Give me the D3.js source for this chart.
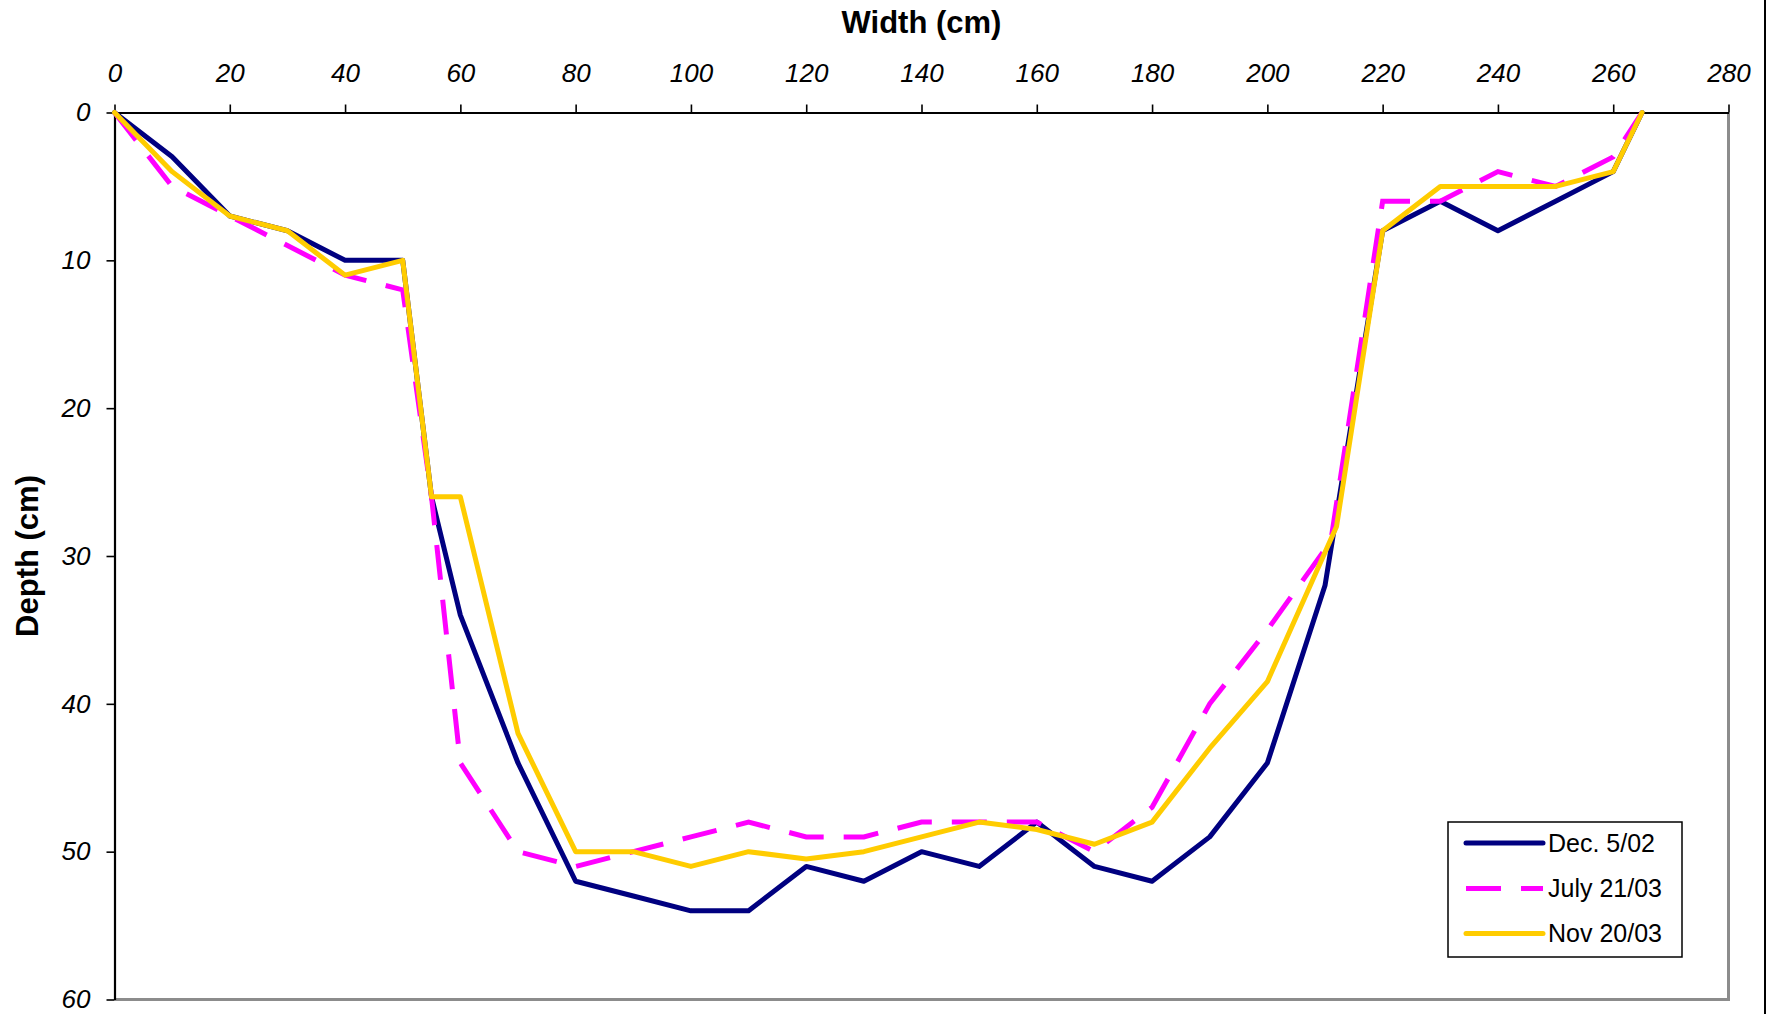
<!DOCTYPE html>
<html>
<head>
<meta charset="utf-8">
<script src="https://cdn.jsdelivr.net/npm/d3@7"></script>
<style>
  html, body { margin: 0; padding: 0; background: #fff; }
  svg { display: block; font-family: "Liberation Sans", Arial, sans-serif; }
</style>
</head>
<body>
<svg id="chart" width="1773" height="1014"></svg>
<script>
// ---- data ----
const xTicks = [0, 20, 40, 60, 80, 100, 120, 140, 160, 180, 200, 220, 240, 260, 280];
const yTicks = [0, 10, 20, 30, 40, 50, 60];

const seriesNames = ["Dec. 5/02", "July 21/03", "Nov 20/03"];

const decWidth  = [0,10,20,30,40,50,55,60,70,80,90,100,110,120,130,140,150,160,170,180,190,200,210,220,230,240,250,260,265];
const decDepth  = [0,3,7,8,10,10,26,34,44,52,53,54,54,51,52,50,51,48,51,52,49,44,32,8,6,8,6,4,0];

const julyWidth = [0,10,20,30,40,50,55,60,70,80,90,100,110,120,130,140,150,160,170,180,190,200,211,220,230,240,250,260,265];
const julyDepth = [0,5,7,9,11,12,26,44,50,51,50,49,48,49,49,48,48,48,50,47,40,35,29,6,6,4,5,3,0];

const novWidth  = [0,10,20,30,40,50,55,60,70,80,90,100,110,120,130,140,150,160,170,180,190,200,212,220,230,240,250,260,265];
const novDepth  = [0,4,7,8,11,10,26,26,42,50,50,51,50,50.5,50,49,48,48.5,49.5,48,43,38.5,28,8,5,5,5,4,0];

(function () {
// ---- layout ----
const svg = d3.select("#chart");
const pLeft = 114.5, pRight = 1728.5, pTop = 112.5, pBottom = 999.5;

const x = d3.scaleLinear().domain([0, 280]).range([pLeft, pRight]);
const y = d3.scaleLinear().domain([0, 60]).range([pTop, pBottom]);

// plot frame (right & bottom gray)
svg.append("line").attr("x1", pRight).attr("x2", pRight).attr("y1", pTop).attr("y2", pBottom + 1.5)
  .attr("stroke", "#8c8c8c").attr("stroke-width", 3);
svg.append("line").attr("x1", pLeft).attr("x2", pRight + 1.5).attr("y1", pBottom).attr("y2", pBottom)
  .attr("stroke", "#8c8c8c").attr("stroke-width", 3);

// outer chart edge on right
svg.append("line").attr("x1", 1765).attr("x2", 1765).attr("y1", 0).attr("y2", 1014)
  .attr("stroke", "#000").attr("stroke-width", 2);

// axes
const xAxis = d3.axisTop(x).tickValues(xTicks).tickSize(8).tickSizeOuter(0).tickPadding(23)
  .tickFormat(d3.format("d"));
const gx = svg.append("g").attr("transform", `translate(0,${pTop})`).call(xAxis);

const yAxis = d3.axisLeft(y).tickValues(yTicks).tickSize(8).tickSizeOuter(0).tickPadding(16)
  .tickFormat(d3.format("d"));
const gy = svg.append("g").attr("transform", `translate(${pLeft},0)`).call(yAxis);

[gx, gy].forEach(g => {
  g.select(".domain").attr("stroke", "#000").attr("stroke-width", 2.2);
  g.selectAll(".tick line").attr("stroke", "#000").attr("stroke-width", 1.6);
  g.selectAll(".tick text").attr("fill", "#000").style("font-size", "26px")
    .style("font-style", "italic").style("font-family", '"Liberation Sans", Arial, sans-serif');
});

// axis titles
svg.append("text").attr("x", (pLeft + pRight) / 2).attr("y", 33).attr("text-anchor", "middle")
  .style("font-size", "31px").style("font-weight", "bold").text("Width (cm)");
svg.append("text").attr("transform", `translate(38,${(pTop + pBottom) / 2}) rotate(-90)`)
  .attr("text-anchor", "middle")
  .style("font-size", "31px").style("font-weight", "bold").text("Depth (cm)");

// series
const series = [
  { name: seriesNames[0], xs: decWidth,  ds: decDepth,  color: "#000080", dash: null },
  { name: seriesNames[1], xs: julyWidth, ds: julyDepth, color: "#FF00FF", dash: "35,20" },
  { name: seriesNames[2], xs: novWidth,  ds: novDepth,  color: "#FFCC00", dash: null }
];

const line = d3.line().x(d => x(d[0])).y(d => y(d[1]));

series.forEach(s => {
  const pts = s.xs.map((v, i) => [v, s.ds[i]]);
  svg.append("path").datum(pts).attr("d", line)
    .attr("fill", "none").attr("stroke", s.color).attr("stroke-width", 5)
    .attr("stroke-linejoin", s.dash ? "miter" : "round")
    .attr("stroke-linecap", s.dash ? "butt" : "round")
    .attr("stroke-dasharray", s.dash);
});

// legend
const lg = svg.append("g");
lg.append("rect").attr("x", 1448).attr("y", 822).attr("width", 234).attr("height", 135)
  .attr("fill", "#fff").attr("stroke", "#000").attr("stroke-width", 1.5);
const rowY = [843, 888.5, 933.5];
series.forEach((s, i) => {
  lg.append("line").attr("x1", 1466).attr("x2", 1543).attr("y1", rowY[i]).attr("y2", rowY[i])
    .attr("stroke", s.color).attr("stroke-width", 5)
    .attr("stroke-linecap", s.dash ? "butt" : "round")
    .attr("stroke-dasharray", s.dash);
  lg.append("text").attr("x", 1548).attr("y", rowY[i]).attr("dy", "0.35em")
    .style("font-size", "25px").attr("fill", "#000").text(s.name);
});
})();
</script>
</body>
</html>
